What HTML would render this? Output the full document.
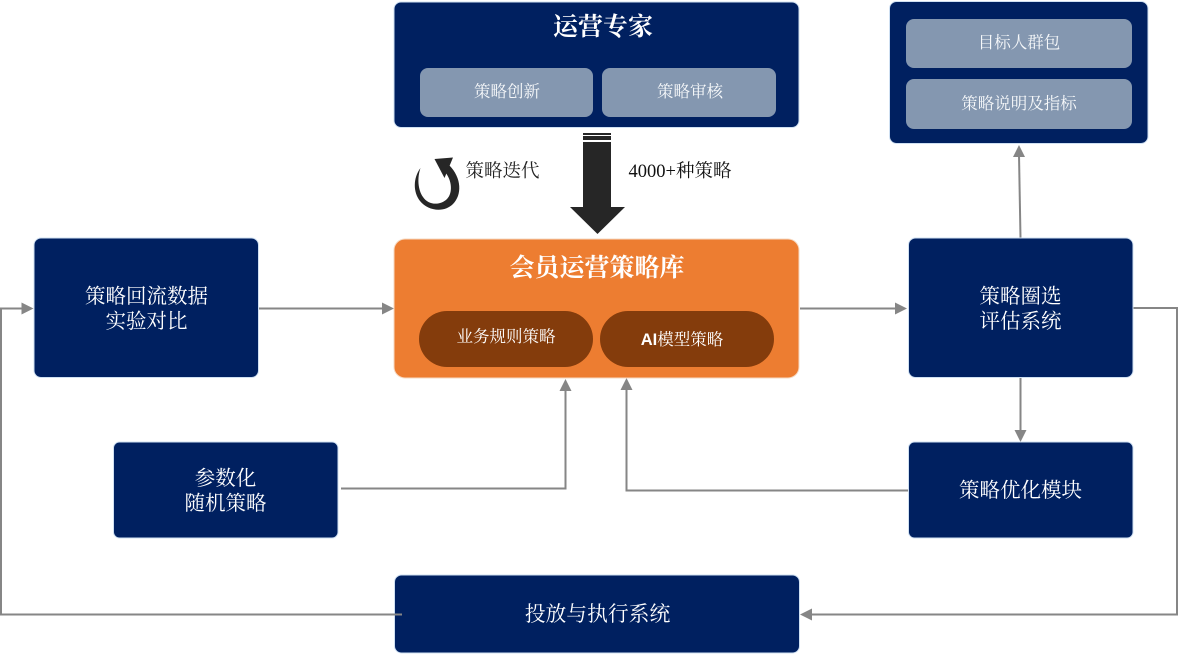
<!DOCTYPE html>
<html><head><meta charset="utf-8">
<style>
html,body{margin:0;padding:0;background:#fff;width:1179px;height:655px;overflow:hidden}
svg{display:block}
text{font-family:"Liberation Serif","Noto Serif CJK SC",serif;text-anchor:middle;fill:#fff}
.s{font-family:"Liberation Sans","Noto Sans CJK SC",sans-serif}
.b{fill:#002060;stroke:#cfe0f2;stroke-width:1}
.g{fill:#8497b0}
.l{fill:none;stroke:#868686;stroke-width:2}
.a{fill:#868686}
.t{font-size:20.5px}
.m{font-size:16.5px;fill:#f6f8fa}
.h{font-size:25px;font-weight:700}
</style></head><body>
<svg width="1179" height="655" viewBox="0 0 1179 655" xmlns="http://www.w3.org/2000/svg">
<!-- connectors -->
<path class="l" d="M259 308.5H384"/><path class="a" d="M394 308.5l-12-6v12z"/>
<path class="l" d="M800 308.5H897"/><path class="a" d="M907 308.5l-12-6v12z"/>
<path class="l" d="M402 614.5H1V308.5H23"/><path class="a" d="M33.500 308.500l-12-6v12z"/>
<path class="l" d="M1133 308H1177V614.500H810"/><path class="a" d="M800 614.500l12-6v12z"/>
<path class="l" d="M1020.500 238L1019 155"/><path class="a" d="M1019 145l-6 12h12z"/>
<path class="l" d="M1020.500 378V432"/><path class="a" d="M1020.500 442l-6-12h12z"/>
<path class="l" d="M341 488.500H565.500V389"/><path class="a" d="M565.500 379l-6 12h12z"/>
<path class="l" d="M908 490.500H626.500V388"/><path class="a" d="M626.500 378l-6 12h12z"/>
<!-- top box -->
<rect class="b" x="394" y="2" width="405" height="125.500" rx="7"/>
<rect class="g" x="420" y="68" width="173" height="49" rx="8"/>
<rect class="g" x="602" y="68" width="174" height="49" rx="8"/>
<text class="h" x="603" y="35">运营专家</text>
<text class="m" x="507" y="97">策略创新</text>
<text class="m" x="690" y="97">策略审核</text>
<!-- top right -->
<rect class="b" x="889.500" y="1.500" width="258.500" height="142" rx="7"/>
<rect class="g" x="906" y="19" width="226" height="49" rx="8"/>
<rect class="g" x="906" y="79" width="226" height="50" rx="8"/>
<text class="m" x="1019" y="48">目标人群包</text>
<text class="m" x="1019" y="109">策略说明及指标</text>
<!-- big arrow -->
<g fill="#262626">
<rect x="583" y="133" width="28" height="2"/>
<rect x="583" y="136" width="28" height="4"/>
<rect x="583" y="142" width="28" height="66"/>
<path d="M570 207H625L597.500 234z"/>
</g>
<!-- curved arrow -->
<path d="M420.500 168C413 178 413 192 420 201C428 211 444 213 453 204C462 195 462 178 449 165L445 172C452 180 453 193 447 199C440 206 428 205 423 197C418 190 417 178 420.500 168z" fill="#262626"/>
<path d="M434.500 159L453 157.500L444.500 178z" fill="#262626"/>
<text x="502.500" y="177" style="font-size:18.500px;fill:#222">策略迭代</text>
<text x="680" y="177" style="font-size:18.500px;fill:#111">4000+种策略</text>
<!-- center -->
<rect x="394" y="239" width="405" height="139" rx="11" fill="#ed7d31" stroke="#f6d9c2" stroke-width="1"/>
<rect x="419" y="311" width="174" height="56" rx="28" fill="#843c0c"/>
<rect x="600" y="311" width="174" height="56" rx="28" fill="#843c0c"/>
<text class="h" x="597" y="276">会员运营策略库</text>
<text class="m" x="506" y="342" style="fill:#fff">业务规则策略</text>
<text class="m" x="682" y="345" style="fill:#fff"><tspan class="s" style="font-weight:700">AI</tspan>模型策略</text>
<!-- left -->
<rect class="b" x="34" y="238" width="224.500" height="139.500" rx="7"/>
<text class="t" x="146.500" y="303">策略回流数据</text>
<text class="t" x="146.500" y="328">实验对比</text>
<!-- right -->
<rect class="b" x="908.500" y="238" width="224.500" height="139.500" rx="7"/>
<text class="t" x="1020.500" y="303">策略圈选</text>
<text class="t" x="1020.500" y="328">评估系统</text>
<!-- param -->
<rect class="b" x="113.500" y="442" width="224.500" height="96" rx="6"/>
<text class="t" x="225.500" y="485">参数化</text>
<text class="t" x="225.500" y="510">随机策略</text>
<!-- optimise -->
<rect class="b" x="908.500" y="442" width="224.500" height="96" rx="6"/>
<text class="t" x="1020.500" y="497">策略优化模块</text>
<!-- bottom -->
<rect class="b" x="394.500" y="575" width="405" height="78" rx="7"/>
<path d="M394 614.500H402" stroke="#868686" stroke-width="2"/>
<text class="t" x="597.500" y="621" style="font-size:20.800px">投放与执行系统</text>
</svg>
</body></html>
